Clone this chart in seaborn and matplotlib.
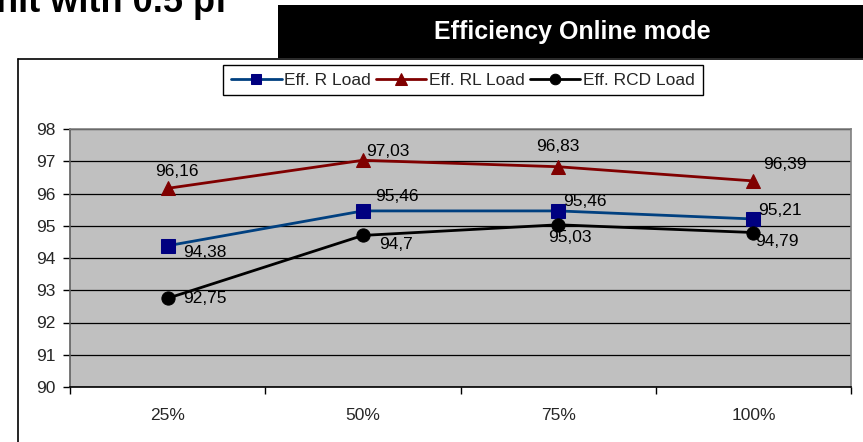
import matplotlib
matplotlib.use("Agg")
import matplotlib.pyplot as plt
from matplotlib.lines import Line2D
from matplotlib.patches import Rectangle
import seaborn as sns
import pandas as pd

# Data
categories = ["25%", "50%", "75%", "100%"]
eff_r_load = [94.38, 95.46, 95.46, 95.21]
eff_rl_load = [96.16, 97.03, 96.83, 96.39]
eff_rcd_load = [92.75, 94.7, 95.03, 94.79]
series_names = ["Eff. R Load", "Eff. RL Load", "Eff. RCD Load"]
y_ticks = list(range(90, 99))

sns.set_style("white")
plt.rcParams["font.family"] = ["Liberation Sans", "DejaVu Sans"]

W, H = 863, 442
fig = plt.figure(figsize=(W / 100, H / 100), dpi=100)
ax = fig.add_axes([70 / W, 1 - 387 / H, 781 / W, 258 / H])
ax.set_facecolor("#C0C0C0")

pos = list(range(len(categories)))
df = pd.DataFrame({"pos": pos, series_names[0]: eff_r_load,
                   series_names[1]: eff_rl_load, series_names[2]: eff_rcd_load})

# style per series: line colour, marker, marker colour, marker size
styles = {
    series_names[0]: ("#004080", "s", "#000080", 9.5),
    series_names[1]: ("#800000", "^", "#800000", 10.5),
    series_names[2]: ("#000000", "o", "#000000", 9.5),
}
for name in series_names:
    lc, mk, mc, ms = styles[name]
    sns.lineplot(data=df, x="pos", y=name, ax=ax, color=lc, lw=2,
                 marker=mk, markersize=ms, markerfacecolor=mc,
                 markeredgecolor=mc, label=name, zorder=3)

# data labels (offsets in pixels, layout only)
offsets = {
    series_names[0]: [(15, -7, "left"), (12, 14, "left"), (5, 9, "left"), (5, 8, "left")],
    series_names[1]: [(9, 17, "center"), (3, 9, "left"), (0, 20, "center"), (10, 16, "left")],
    series_names[2]: [(15, 0, "left"), (16, -9, "left"), (12, -13, "center"), (2, -9, "left")],
}
for name in series_names:
    for x, v, (dx, dy, ha) in zip(pos, df[name], offsets[name]):
        ax.annotate(f"{v:g}".replace(".", ","), (x, v), xytext=(dx, dy),
                    textcoords="offset pixels", ha=ha, va="center",
                    fontsize=12.5, color="black", zorder=4)

ax.set_xlim(-0.5, len(categories) - 0.5)
ax.set_ylim(y_ticks[0], y_ticks[-1])
ax.set_yticks(y_ticks)
ax.set_yticklabels([str(t) for t in y_ticks])
ax.set_xticks([p - 0.5 for p in pos] + [pos[-1] + 0.5])
ax.set_xticklabels([])
ax.set_xticks(pos, minor=True)
ax.set_xticklabels(categories, minor=True)
ax.tick_params(axis="x", which="major", length=5, width=1, color="black", direction="out", bottom=True)
ax.tick_params(axis="x", which="minor", length=0, pad=15, labelsize=12.5)
ax.tick_params(axis="y", length=5, width=1, color="black", direction="out", left=True, pad=5.5, labelsize=12.5)
ax.set_xlabel("")
ax.set_ylabel("")
ax.grid(axis="y", color="black", lw=0.9)
ax.set_axisbelow(True)
for side in ["top", "right"]:
    ax.spines[side].set_color("#808080")
    ax.spines[side].set_linewidth(1.2)
ax.spines["left"].set_color("#606060")
ax.spines["bottom"].set_color("black")
for side in ["left", "bottom"]:
    ax.spines[side].set_linewidth(1.2)

handles, labels = ax.get_legend_handles_labels()
ax.get_legend().remove()
leg = fig.legend(handles, labels, loc="center", bbox_to_anchor=(463 / W, 1 - 80 / H),
                 ncol=3, frameon=True, fancybox=False, edgecolor="black", framealpha=1,
                 fontsize=12.5, handlelength=2.9, handletextpad=0.15, columnspacing=0.3,
                 borderpad=0.45, borderaxespad=0, markerscale=0.8)
leg.get_frame().set_linewidth(1)

# document frame around the chart
fig.add_artist(Line2D([18 / W, 18 / W], [0, 1 - 59 / H], color="black", lw=1.2, transform=fig.transFigure))
fig.add_artist(Line2D([18 / W, 1], [1 - 59 / H, 1 - 59 / H], color="black", lw=1.2, transform=fig.transFigure))

# black header box
fig.add_artist(Rectangle((278 / W, 1 - 58 / H), 1, 53 / H, facecolor="black",
                         edgecolor="none", transform=fig.transFigure))
fig.text(572 / W, 1 - 32 / H, "Efficiency Online mode", color="white", fontsize=18,
         fontweight="bold", ha="center", va="center")

# clipped document text at the very top
fig.text(227 / W, 1 - 12 / H, "Unit with 0.5 pf", fontsize=26, fontweight="bold",
         ha="right", va="baseline", color="black")

fig.savefig("out.png", dpi=100)
